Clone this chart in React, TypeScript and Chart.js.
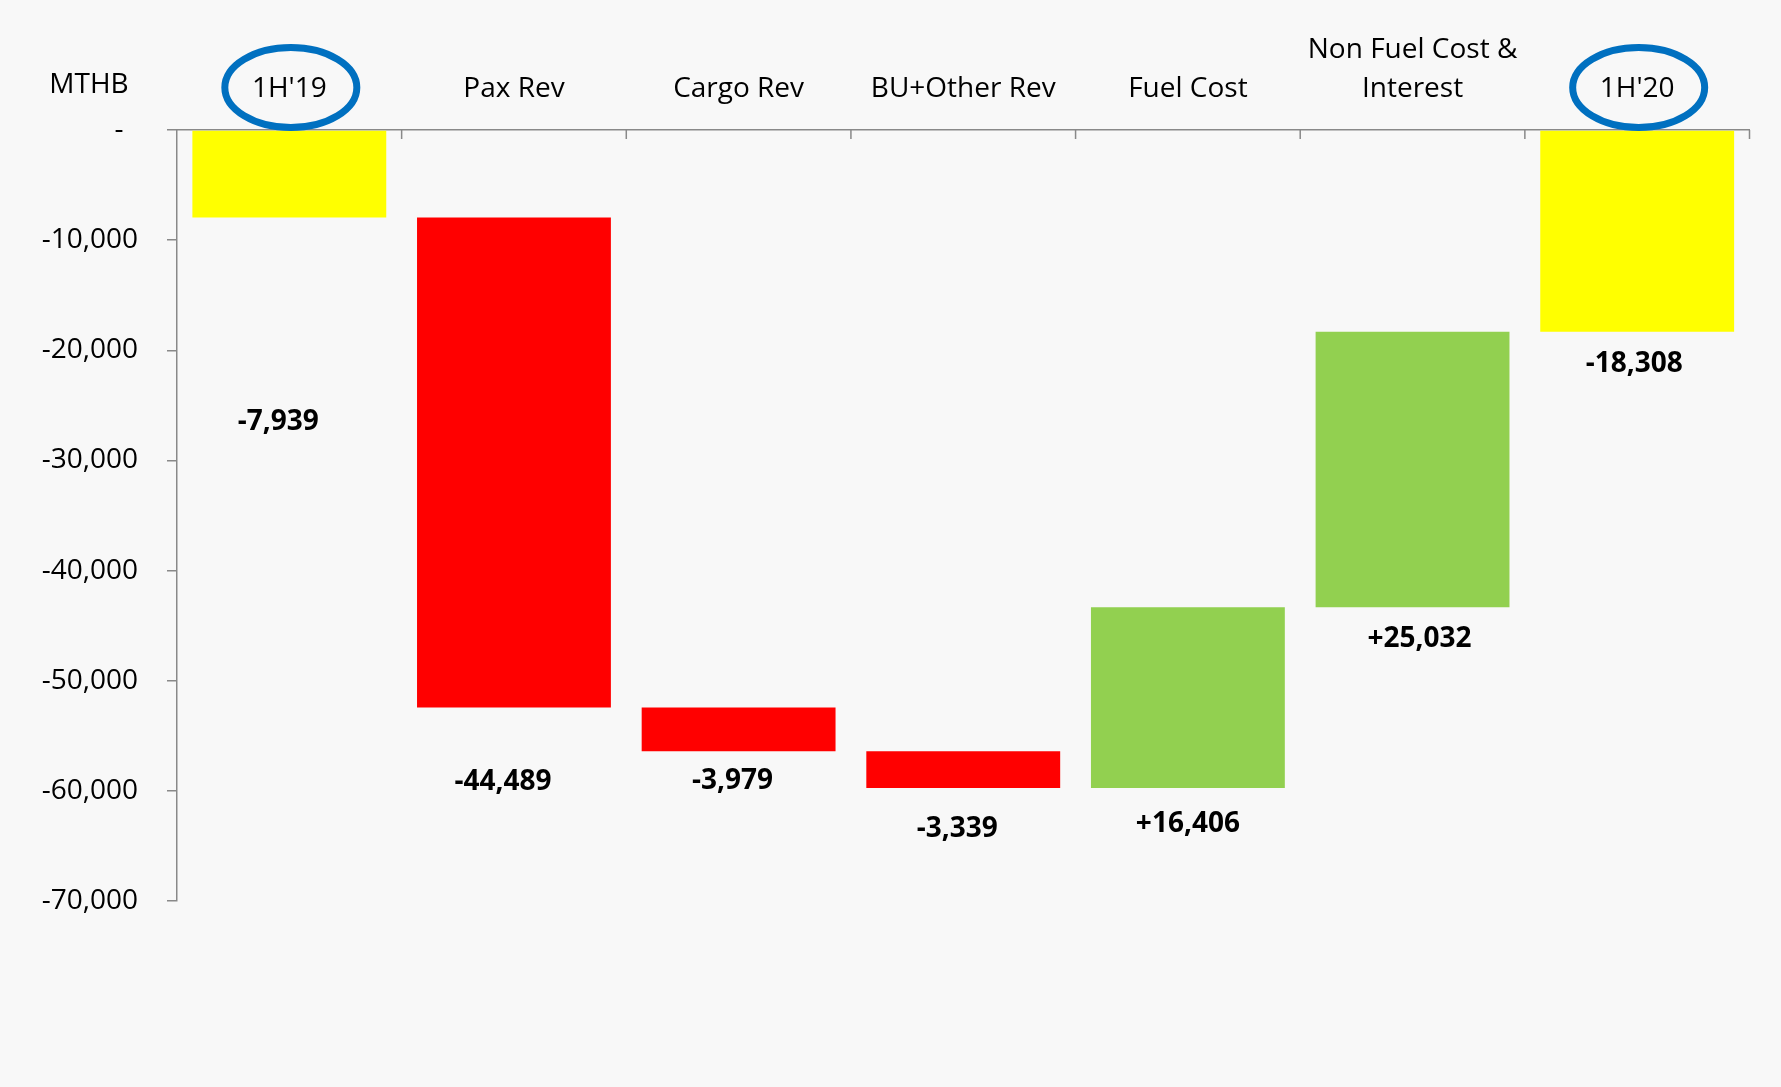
import { useEffect, useRef } from "react";
import { Chart, registerables } from "chart.js";

Chart.register(...registerables);

// ---- data ----
const categories: string[][] = [
  ["1H'19"],
  ["Pax Rev"],
  ["Cargo Rev"],
  ["BU+Other Rev"],
  ["Fuel Cost"],
  ["Non Fuel Cost &", "Interest"],
  ["1H'20"],
];
const values: number[] = [-7939, -44489, -3979, -3339, 16406, 25032, -18308];
const kinds: string[] = ["total", "delta", "delta", "delta", "delta", "delta", "total"];
const unitLabel = "MTHB";
const yMin = -70000;
const yMax = 0;
const yStep = 10000;

// ---- styling ----
const BG = "#F8F8F8";
const AXIS = "#898989";
const FONT = "'Open Sans', sans-serif";
const COLOR_TOTAL = "#FFFF00";
const COLOR_DOWN = "#FF0000";
const COLOR_UP = "#92D050";
const LABEL_DX = [-11, -11, -6, -6, 0, 7, -3];
const LABEL_DY = [213, 83, 38, 49, 44, 40, 40];

function fmt(v: number): string {
  return Math.abs(v).toLocaleString("en-US");
}

export default function App() {
  const ref = useRef<HTMLCanvasElement | null>(null);

  useEffect(() => {
    document.body.style.margin = "0";
    document.body.style.background = BG;
    const canvas = ref.current;
    if (!canvas) return;

    const floating: [number, number][] = [];
    let run = 0;
    values.forEach((v, i) => {
      if (kinds[i] === "total") {
        floating.push([0, v]);
        run = v;
      } else {
        floating.push([run, run + v]);
        run += v;
      }
    });
    const colors = values.map((v, i) =>
      kinds[i] === "total" ? COLOR_TOTAL : v < 0 ? COLOR_DOWN : COLOR_UP
    );
    const labels = values.map((v, i) =>
      kinds[i] === "total" ? (v < 0 ? "-" : "") + fmt(v) : (v < 0 ? "-" : "+") + fmt(v)
    );

    const decor = {
      id: "decor",
      afterDatasetsDraw(chart: any) {
        const ctx = chart.ctx;
        const meta = chart.getDatasetMeta(0);
        ctx.save();
        ctx.font = `bold 28px ${FONT}`;
        ctx.fillStyle = "#000";
        ctx.textAlign = "center";
        ctx.textBaseline = "alphabetic";
        meta.data.forEach((el: any, i: number) => {
          const bottom = Math.max(el.y, el.base);
          ctx.fillText(labels[i], el.x + LABEL_DX[i], bottom + LABEL_DY[i]);
        });
        ctx.restore();
      },
      afterDraw(chart: any) {
        const ctx = chart.ctx;
        const x = chart.scales.x;
        const area = chart.chartArea;
        ctx.save();
        // inside tick marks at category boundaries
        ctx.strokeStyle = AXIS;
        ctx.lineWidth = 1.5;
        const half = (x.getPixelForValue(1) - x.getPixelForValue(0)) / 2;
        ctx.beginPath();
        for (let i = 1; i < categories.length; i++) {
          const px = x.getPixelForValue(i) - half;
          ctx.moveTo(px, area.top);
          ctx.lineTo(px, area.top + 9);
        }
        ctx.moveTo(area.right, area.top);
        ctx.lineTo(area.right, area.top + 9);
        ctx.stroke();
        // unit label
        ctx.font = `28px ${FONT}`;
        ctx.fillStyle = "#000";
        ctx.textAlign = "center";
        ctx.textBaseline = "alphabetic";
        ctx.fillText(unitLabel, 89, 93);
        // ellipses around totals
        ctx.strokeStyle = "#0070C0";
        ctx.lineWidth = 7;
        kinds.forEach((k, i) => {
          if (k !== "total") return;
          ctx.beginPath();
          ctx.ellipse(x.getPixelForValue(i) + 1.5, 87.5, 66, 40, 0, 0, Math.PI * 2);
          ctx.stroke();
        });
        ctx.restore();
      },
    };

    const chart = new Chart(canvas, {
      type: "bar",
      data: {
        labels: categories,
        datasets: [
          {
            data: floating as any,
            backgroundColor: colors,
            borderWidth: 0,
            barPercentage: 0.863,
            categoryPercentage: 1.0,
          },
        ],
      },
      options: {
        responsive: false,
        animation: false,
        devicePixelRatio: 1,
        layout: { padding: { left: 0, top: 0, right: 31.5, bottom: 186 } },
        plugins: {
          legend: { display: false },
          tooltip: { enabled: false },
        },
        scales: {
          x: {
            position: "top",
            offset: true,
            grid: { display: true, drawOnChartArea: false, drawTicks: false, color: AXIS },
            border: { display: true, color: AXIS, width: 1.5 },
            ticks: {
              color: "#000",
              font: { family: FONT, size: 28, lineHeight: 1.4 },
              padding: 21,
              maxRotation: 0,
              autoSkip: false,
            },
            afterFit: (s: any) => {
              s.height = 130;
            },
          },
          y: {
            min: yMin,
            max: yMax,
            grid: {
              display: true,
              drawOnChartArea: false,
              drawTicks: true,
              tickLength: 10,
              color: AXIS,
              lineWidth: 1.5,
            },
            border: { display: true, color: AXIS, width: 1.5 },
            ticks: {
              stepSize: yStep,
              color: "#000",
              font: { family: FONT, size: 28 },
              padding: 29,
              callback: (v: any) => (Number(v) === 0 ? "-  " : Number(v).toLocaleString("en-US")),
            },
            afterFit: (s: any) => {
              s.width = 177;
            },
          },
        },
      },
      plugins: [decor],
    });

    return () => chart.destroy();
  }, []);

  return (
    <div style={{ width: 1781, height: 1087, background: BG }}>
      <canvas ref={ref} width={1781} height={1087} style={{ display: "block" }} />
    </div>
  );
}
